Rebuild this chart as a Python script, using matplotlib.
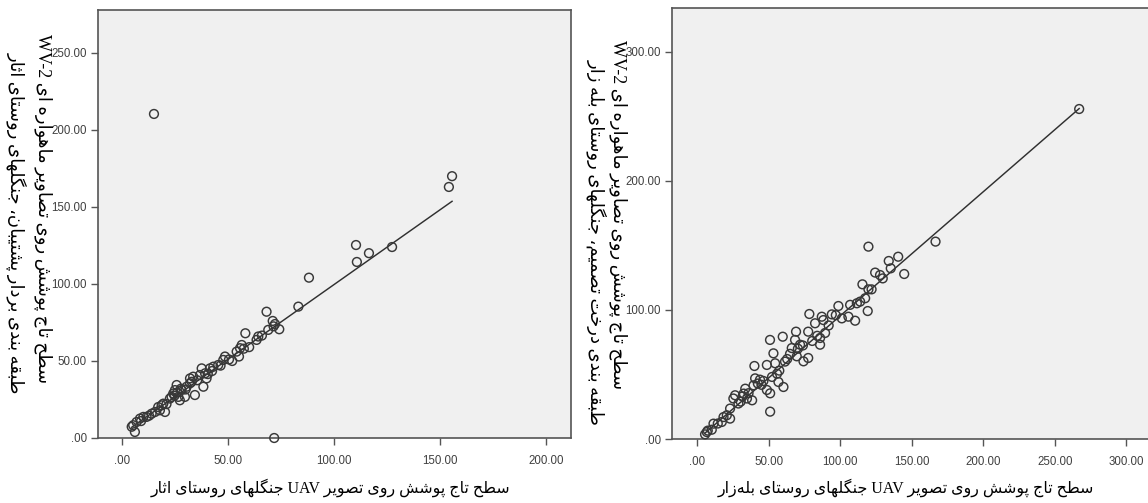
import re
import numpy as np
import matplotlib
matplotlib.use('Agg')
import matplotlib.pyplot as plt
from matplotlib.ticker import FuncFormatter

# ---- data ----
# left: Asar village (UAV vs WV-2, SVM)
asar_x = [15.1, 71.8, 155.7, 154.2, 127.4, 110.4, 110.8, 116.5, 88.2, 83.2,
          68.2, 71.1, 72.2, 74.2, 69.0, 64.3, 63.5, 58.2, 56.5, 55.7,
          55.2, 54.1, 48.6, 47.8, 45.4, 43.1, 41.5, 37.6, 39.2, 36.8,
          39.9, 38.4, 33.6, 32.1, 32.9, 32.1, 34.4, 30.5, 28.1, 25.8,
          25.0, 24.2, 26.6, 23.4, 22.6, 29.7, 27.3, 19.5, 18.7, 17.1,
          17.9, 20.3, 15.6, 14.0, 11.6, 10.1, 8.5, 6.9, 5.3, 6.1,
          4.6, 26.0, 27.8, 35.5, 40.5, 42.5, 46.5, 50.5, 52.0, 57.5,
          60.0, 66.0, 71.5, 21.0, 24.8, 30.0, 12.8, 9.0]
asar_y = [210.4, 0.0, 170.0, 163.0, 124.0, 125.3, 114.3, 120.0, 104.1, 85.3,
          82.0, 76.0, 74.0, 70.6, 70.2, 65.9, 63.7, 68.0, 60.4, 58.3,
          52.9, 56.1, 52.9, 50.7, 47.4, 46.3, 45.2, 45.2, 42.0, 40.9,
          38.7, 33.3, 39.8, 38.7, 36.5, 35.5, 27.9, 33.3, 31.1, 34.4,
          31.1, 28.9, 26.7, 26.7, 25.6, 26.7, 24.5, 22.3, 21.2, 20.1,
          18.0, 16.9, 16.9, 15.8, 13.7, 13.7, 12.6, 10.4, 8.3, 3.9,
          7.3, 29.5, 32.0, 37.5, 41.5, 43.5, 47.0, 51.0, 50.0, 58.0,
          59.0, 66.5, 72.5, 22.0, 27.5, 31.5, 14.5, 11.0]
asar_fit = [0.971, 2.5]          # slope, intercept

# right: Balehzar village (UAV vs WV-2, decision tree)
baleh_x = [267.1, 166.7, 119.8, 140.6, 134.0, 144.8, 124.5, 127.9, 129.8, 135.4,
           115.6, 119.8, 117.5, 114.0, 111.7, 119.3, 110.5, 105.8, 101.2, 98.8,
           94.2, 87.2, 88.3, 78.5, 82.5, 89.5, 86.0, 86.0, 77.7, 69.2,
           68.5, 72.0, 66.2, 69.7, 74.4, 77.7, 59.9, 51.0, 53.4, 54.6,
           48.8, 40.1, 40.6, 46.4, 48.8, 51.1, 51.1, 56.9, 60.4, 55.9,
           52.4, 39.5, 33.7, 32.6, 38.5, 26.6, 25.4, 28.9, 23.1, 20.8,
           23.1, 17.3, 11.5, 10.3, 6.8, 5.6, 34.9, 30.5, 31.8, 36.0,
           42.5, 45.0, 57.5, 63.0, 65.0, 70.5, 74.0, 80.5, 84.0, 92.0,
           107.0, 122.0, 7.5, 14.5, 18.5, 44.0, 61.5, 97.0]
baleh_y = [255.8, 153.0, 149.1, 141.3, 138.0, 127.9, 129.0, 127.1, 124.5, 132.3,
           119.9, 116.0, 109.1, 106.5, 105.2, 99.2, 91.7, 94.8, 93.5, 103.1,
           96.6, 94.8, 92.2, 96.9, 89.7, 82.2, 78.3, 73.1, 83.2, 83.2,
           76.8, 73.1, 70.5, 64.1, 60.2, 62.8, 79.3, 76.8, 66.4, 58.7,
           57.4, 56.6, 47.0, 45.0, 38.0, 35.4, 21.2, 44.2, 40.3, 50.6,
           48.1, 41.6, 39.0, 35.2, 30.0, 33.9, 31.4, 27.5, 23.6, 18.4,
           15.8, 13.2, 11.9, 7.2, 5.4, 3.6, 31.4, 29.0, 33.0, 35.5,
           43.0, 42.0, 53.0, 62.0, 66.0, 70.0, 72.5, 76.0, 80.0, 88.0,
           104.0, 116.0, 6.5, 12.0, 17.0, 46.0, 60.0, 96.0]
baleh_fit = [0.962, -0.8]

asar_xticks = [0, 50, 100, 150, 200]
asar_yticks = [0, 50, 100, 150, 200, 250]
baleh_xticks = [0, 50, 100, 150, 200, 250, 300]
baleh_yticks = [0, 100, 200, 300]

asar_xlabel = 'سطح تاج پوشش روی تصویر UAV جنگلهای روستای اثار'
asar_ylabel = ['سطح تاج پوشش روی تصاویر ماهواره ای WV-2',
               'طبقه بندی بردار پشتیبان، جنگلهای روستای اثار']
baleh_xlabel = 'سطح تاج پوشش روی تصویر UAV جنگلهای روستای بله\u200cزار'
baleh_ylabel = ['سطح تاج پوشش روی تصاویر ماهواره ای WV-2',
                'طبقه بندی درخت تصمیم، جنگلهای روستای بله زار']

# matplotlib has no arabic shaping, so pick presentation forms by hand
# (isolated, final[, initial, medial])
FORMS = {
    'ا': (0xFE8D, 0xFE8E), 'آ': (0xFE81, 0xFE82),
    'ب': (0xFE8F, 0xFE90, 0xFE91, 0xFE92), 'پ': (0xFB56, 0xFB57, 0xFB58, 0xFB59),
    'ت': (0xFE95, 0xFE96, 0xFE97, 0xFE98), 'ث': (0xFE99, 0xFE9A, 0xFE9B, 0xFE9C),
    'ج': (0xFE9D, 0xFE9E, 0xFE9F, 0xFEA0), 'چ': (0xFB7A, 0xFB7B, 0xFB7C, 0xFB7D),
    'ح': (0xFEA1, 0xFEA2, 0xFEA3, 0xFEA4), 'خ': (0xFEA5, 0xFEA6, 0xFEA7, 0xFEA8),
    'د': (0xFEA9, 0xFEAA), 'ذ': (0xFEAB, 0xFEAC), 'ر': (0xFEAD, 0xFEAE),
    'ز': (0xFEAF, 0xFEB0), 'ژ': (0xFB8A, 0xFB8B),
    'س': (0xFEB1, 0xFEB2, 0xFEB3, 0xFEB4), 'ش': (0xFEB5, 0xFEB6, 0xFEB7, 0xFEB8),
    'ص': (0xFEB9, 0xFEBA, 0xFEBB, 0xFEBC), 'ض': (0xFEBD, 0xFEBE, 0xFEBF, 0xFEC0),
    'ط': (0xFEC1, 0xFEC2, 0xFEC3, 0xFEC4), 'ظ': (0xFEC5, 0xFEC6, 0xFEC7, 0xFEC8),
    'ع': (0xFEC9, 0xFECA, 0xFECB, 0xFECC), 'غ': (0xFECD, 0xFECE, 0xFECF, 0xFED0),
    'ف': (0xFED1, 0xFED2, 0xFED3, 0xFED4), 'ق': (0xFED5, 0xFED6, 0xFED7, 0xFED8),
    'ک': (0xFB8E, 0xFB8F, 0xFB90, 0xFB91), 'گ': (0xFB92, 0xFB93, 0xFB94, 0xFB95),
    'ل': (0xFEDD, 0xFEDE, 0xFEDF, 0xFEE0), 'م': (0xFEE1, 0xFEE2, 0xFEE3, 0xFEE4),
    'ن': (0xFEE5, 0xFEE6, 0xFEE7, 0xFEE8), 'ه': (0xFEE9, 0xFEEA, 0xFEEB, 0xFEEC),
    'و': (0xFEED, 0xFEEE), 'ی': (0xFBFC, 0xFBFD, 0xFBFE, 0xFBFF),
}


def rtl(s):
    out = []
    for i, ch in enumerate(s):
        f = FORMS.get(ch)
        if f is None:
            if ch != '\u200c':
                out.append(ch)
            continue
        prev = s[i - 1] if i > 0 else ''
        nxt = s[i + 1] if i + 1 < len(s) else ''
        jp = prev in FORMS and len(FORMS[prev]) == 4
        jn = len(f) == 4 and nxt in FORMS
        if jp and jn:
            c = f[3]
        elif jp:
            c = f[1]
        elif jn:
            c = f[2]
        else:
            c = f[0]
        out.append(chr(c))
    runs = re.findall(r'[A-Za-z0-9.\-]+|[^A-Za-z0-9.\-]+', ''.join(out))
    return ''.join(r if re.match(r'[A-Za-z0-9]', r) else r[::-1] for r in reversed(runs))


LABEL_FONT = ['Liberation Serif', 'DejaVu Sans']
TICK_FONT = 'Liberation Sans'
FACE = '#f0f0f0'
INK = '#383838'


def fmt(v, pos):
    s = '%.2f' % v
    return s[1:] if s.startswith('0') else s


def style(ax, xlim, ylim, xt, yt):
    ax.set_facecolor(FACE)
    ax.set_xlim(*xlim)
    ax.set_ylim(*ylim)
    ax.set_xticks(xt)
    ax.set_yticks(yt)
    ax.xaxis.set_major_formatter(FuncFormatter(fmt))
    ax.yaxis.set_major_formatter(FuncFormatter(fmt))
    for sp in ax.spines.values():
        sp.set_color('#555555')
        sp.set_linewidth(1.2)
    ax.tick_params(direction='out', length=5, width=1, color='#555555',
                   labelsize=8.3, labelcolor='#404040', pad=3)
    for lab in ax.get_xticklabels() + ax.get_yticklabels():
        lab.set_family(TICK_FONT)
    ax.xaxis.set_tick_params(pad=7)


def scatter_fit(ax, x, y, fit):
    ax.scatter(x, y, s=40, facecolors='none', edgecolors=INK, linewidths=1.05,
               zorder=3, clip_on=False)
    xs = np.array([min(x), max(x)])
    ax.plot(xs, fit[0] * xs + fit[1], color='#303030', lw=1.05, zorder=2)


fig = plt.figure(figsize=(11.48, 5.03), dpi=100)
W, H = 1148, 503

ax1 = fig.add_axes([98 / W, 1 - 438 / H, (571 - 98) / W, (438 - 10) / H])
style(ax1, (-11.3, 211.8), (0, 277.9), asar_xticks, asar_yticks)
scatter_fit(ax1, asar_x, asar_y, asar_fit)

ax2 = fig.add_axes([672 / W, 1 - 439 / H, (1154 - 672) / W, (439 - 8) / H])
style(ax2, (-17.5, 319.4), (0, 334.1), baleh_xticks, baleh_yticks)
scatter_fit(ax2, baleh_x, baleh_y, baleh_fit)

# axis titles
fig.text(330 / W, 1 - 488 / H, rtl(asar_xlabel), ha='center', va='center',
         fontsize=11.4, family=LABEL_FONT)
fig.text(906 / W, 1 - 488 / H, rtl(baleh_xlabel), ha='center', va='center',
         fontsize=11.4, family=LABEL_FONT)

fig.text(43 / W, 1 - 209 / H, rtl(asar_ylabel[0]), rotation=-90, ha='center',
         va='center', fontsize=13, family=LABEL_FONT)
fig.text(17 / W, 1 - 223 / H, rtl(asar_ylabel[1]), rotation=-90, ha='center',
         va='center', fontsize=13, family=LABEL_FONT)
fig.text(618 / W, 1 - 215 / H, rtl(baleh_ylabel[0]), rotation=-90, ha='center',
         va='center', fontsize=13, family=LABEL_FONT)
fig.text(597 / W, 1 - 242 / H, rtl(baleh_ylabel[1]), rotation=-90, ha='center',
         va='center', fontsize=13, family=LABEL_FONT)

fig.savefig('out.png', dpi=100, facecolor='white')
